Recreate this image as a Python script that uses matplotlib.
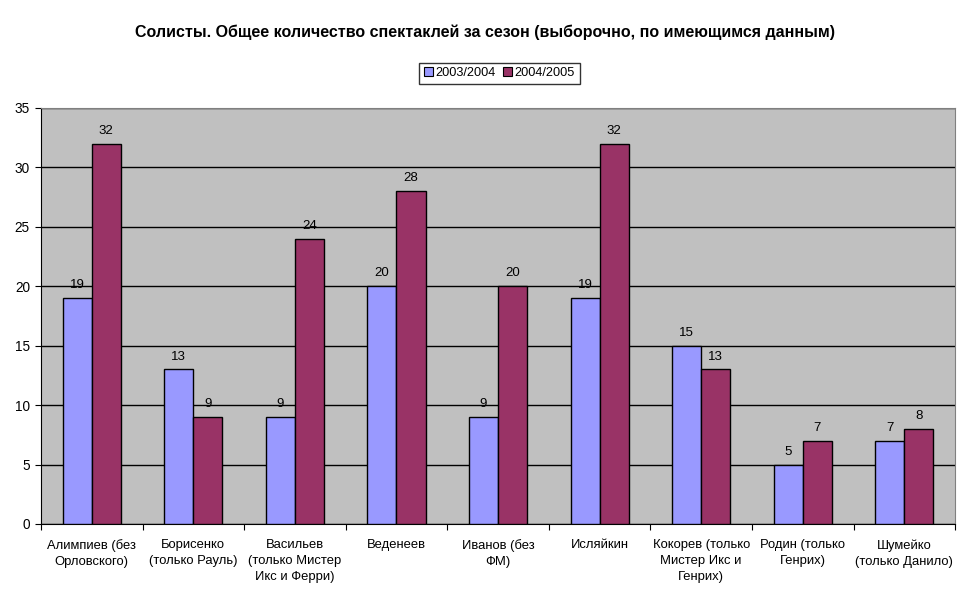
import matplotlib.pyplot as plt
import numpy as np
from matplotlib.patches import Patch

plt.rcParams['font.family'] = ['Liberation Sans', 'DejaVu Sans']

# data
categories = ['Алимпиев (без\nОрловского)', 'Борисенко\n(только Рауль)',
              'Васильев\n(только Мистер\nИкс и Ферри)', 'Веденеев', 'Иванов (без\nФМ)',
              'Исляйкин', 'Кокорев (только\nМистер Икс и\nГенрих)', 'Родин (только\nГенрих)',
              'Шумейко\n(только Данило)']
s2003 = [19, 13, 9, 20, 9, 19, 15, 5, 7]
s2004 = [32, 9, 24, 28, 20, 32, 13, 7, 8]
series_names = ['2003/2004', '2004/2005']
colors = ['#9999FF', '#993366']

fig = plt.figure(figsize=(9.7, 6.04), dpi=100)
ax = fig.add_axes([0.0423, 0.1325, 0.9423, 0.6887])
ax.set_facecolor('#C0C0C0')

x = np.arange(len(categories))
w = 1 / 3.5
b1 = ax.bar(x - w / 2, s2003, w, color=colors[0], edgecolor='black', linewidth=1, zorder=3)
b2 = ax.bar(x + w / 2, s2004, w, color=colors[1], edgecolor='black', linewidth=1, zorder=3)

for bars, vals in ((b1, s2003), (b2, s2004)):
    for r, v in zip(bars, vals):
        ax.annotate(str(v), (r.get_x() + r.get_width() / 2, v), xytext=(0, 5),
                    textcoords='offset points', ha='center', va='bottom', fontsize=9.5)

ax.set_ylim(0, 35)
ax.set_yticks(range(0, 36, 5))
ax.yaxis.grid(True, color='black', linewidth=1, zorder=1)
ax.set_xlim(-0.5, len(categories) - 0.5)
ax.set_xticks(np.arange(-0.5, len(categories), 1))
ax.set_xticklabels([])
ax.set_xticks(x, minor=True)
ax.set_xticklabels(categories, minor=True, fontsize=9.4, linespacing=1.45)
ax.tick_params(axis='x', which='minor', length=0, pad=11)
ax.tick_params(axis='x', which='major', length=4, direction='out')
ax.tick_params(axis='y', length=4, labelsize=9.8, pad=4)

ax.spines['top'].set_color('#808080')
ax.spines['right'].set_color('#808080')

fig.text(0.5, 0.947, 'Солисты. Общее количество спектаклей за сезон (выборочно, по имеющимся данным)',
         ha='center', va='center', fontsize=11.5, fontweight='bold')

handles = [Patch(facecolor=c, edgecolor='black', linewidth=0.8) for c in colors]
leg = fig.legend(handles, series_names, loc='center', bbox_to_anchor=(0.515, 0.879),
                 ncol=2, fontsize=9.2, frameon=True, fancybox=False, edgecolor='black',
                 handlelength=0.7, handleheight=0.7, handletextpad=0.2, columnspacing=0.6,
                 borderpad=0.35)
leg.get_frame().set_linewidth(1)

fig.savefig('out.png', dpi=100)
